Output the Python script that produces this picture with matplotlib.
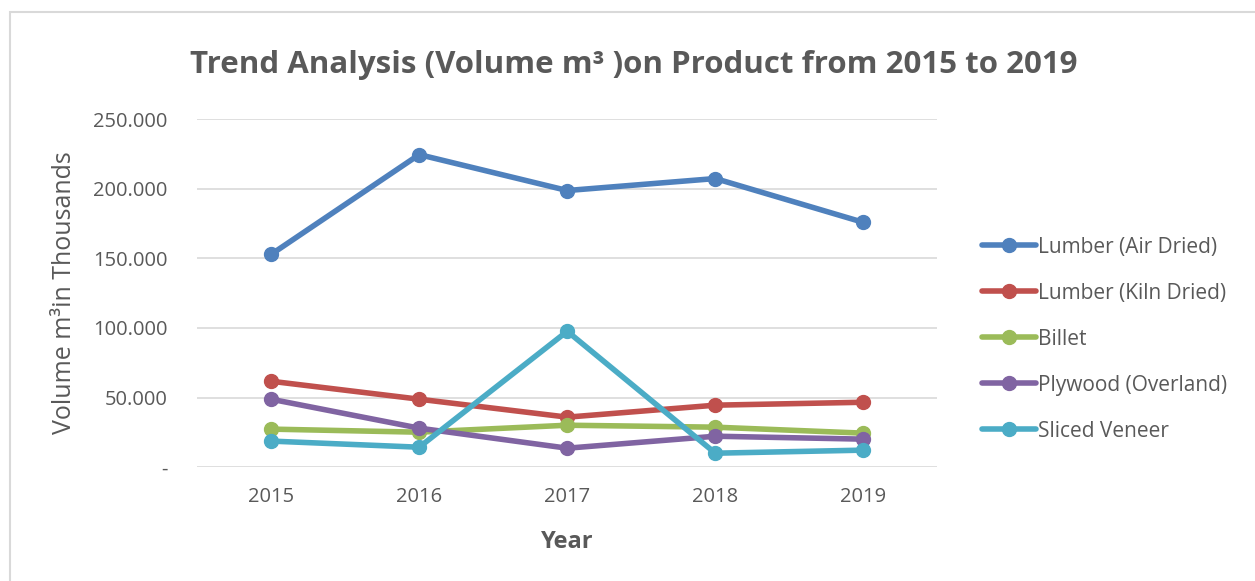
import numpy as np
import matplotlib.pyplot as plt
from matplotlib.ticker import FuncFormatter
from matplotlib.patches import Rectangle

plt.rcParams['font.family'] = ['Open Sans', 'DejaVu Sans']

years = ['2015', '2016', '2017', '2018', '2019']
lumber_air = [152.8, 224.5, 198.7, 207.3, 175.8]
lumber_kiln = [61.7, 48.8, 35.9, 44.5, 46.6]
billet = [27.3, 25.1, 30.1, 28.7, 24.4]
plywood = [48.8, 28.0, 13.6, 22.2, 20.1]
sliced = [18.7, 14.3, 97.6, 10.0, 12.2]

names = ['Lumber (Air Dried)', 'Lumber (Kiln Dried)', 'Billet',
         'Plywood (Overland)', 'Sliced Veneer']
colors = ['#4f81bd', '#c0504d', '#9bbb59', '#8064a2', '#4bacc6']
series = [lumber_air, lumber_kiln, billet, plywood, sliced]

grey = '#595959'

fig = plt.figure(figsize=(12.55, 5.81), dpi=100)
ax = fig.add_axes([0.157, 0.196, 0.590, 0.599])

x = np.arange(len(years))
for vals, name, c in zip(series, names, colors):
    ax.plot(x, vals, color=c, linewidth=4, marker='o', markersize=10,
            label=name, solid_capstyle='round')

ax.set_xlim(-0.5, 4.5)
ax.set_ylim(0, 250)
ax.set_yticks([0, 50, 100, 150, 200, 250])
ax.yaxis.set_major_formatter(FuncFormatter(
    lambda v, p: '-' if v == 0 else f'{v:.3f}'))
ax.set_xticks(x)
ax.set_xticklabels(years)
ax.tick_params(length=0, labelsize=14.5, colors=grey, pad=14)
ax.tick_params(axis='y', pad=21)
ax.grid(axis='y', color='#d9d9d9', linewidth=1.2)
ax.set_axisbelow(True)
for s in ax.spines.values():
    s.set_visible(False)

ax.set_xlabel('Year', fontsize=17, fontweight='bold', color=grey, labelpad=17)
ax.set_ylabel('Volume m³in Thousands', fontsize=18, color=grey, labelpad=12)
fig.text(0.505, 0.888, 'Trend Analysis (Volume m³ )on Product from 2015 to 2019',
         ha='center', va='center', fontsize=22.5, fontweight='bold', color=grey)

leg = ax.legend(loc='center left', bbox_to_anchor=(1.035, 0.368), frameon=False,
                fontsize=15, labelspacing=1.2, handlelength=2.6,
                handletextpad=0.1, labelcolor=grey)

fig.patches.append(Rectangle((0.008, -0.01), 1.0, 0.99, transform=fig.transFigure,
                             fill=False, edgecolor='#d9d9d9', linewidth=1.5))

fig.savefig('out.png', dpi=100)
